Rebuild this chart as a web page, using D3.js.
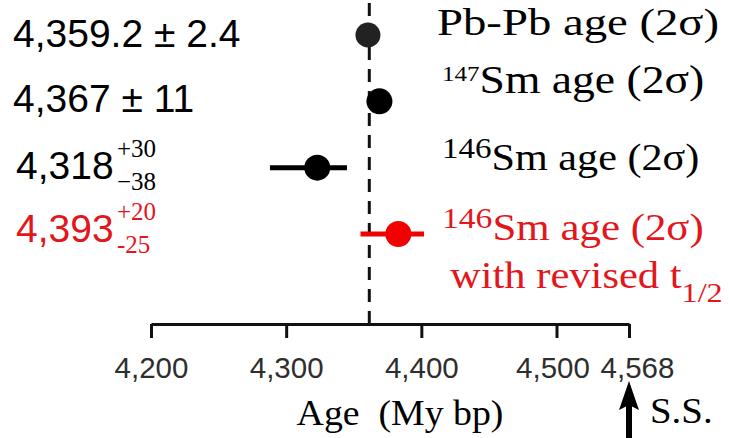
<!DOCTYPE html>
<html>
<head>
<meta charset="utf-8">
<script src="https://cdn.jsdelivr.net/npm/d3@7"></script>
<style>
  html, body { margin: 0; padding: 0; background: #fff; }
  svg { display: block; }
  .sans { font-family: "Liberation Sans", Arial, sans-serif; }
  .serif { font-family: "Liberation Serif", "Times New Roman", serif; }
</style>
</head>
<body>
<svg id="chart" width="729" height="438"></svg>
<script>
// ---------------- data ----------------
const categories = ["Pb-Pb", "147Sm", "146Sm", "146Sm revised"];
const ageCenters = [4360.5, 4369, 4323, 4383];
const barLow     = [4360.5, 4369, 4288, 4355];
const barHigh    = [4360.5, 4369, 4345, 4402];
const pbPbLine   = 4361.5;

const valueMain = ["4,359.2 \u00B1 2.4", "4,367 \u00B1 11", "4,318", "4,393"];
const valueSup  = ["", "", "+30", "+20"];
const valueSub  = ["", "", "\u221238", "-25"];

const labelSup  = ["", "147", "146", "146"];
const labelMain = ["Pb-Pb age (2\u03C3)", "Sm age (2\u03C3)", "Sm age (2\u03C3)", "Sm age (2\u03C3)"];
const extraLine = ["", "", "", "with revised t"];
const extraSub  = ["", "", "", "1/2"];
const highlight = [false, false, false, true];

const tickValues = [4200, 4300, 4400, 4500, 4568];
const tickLabels = ["4,200", "4,300", "4,400", "4,500", "4,568"];
const axisTitle = "Age  (My bp)";
const ssLabel = "S.S.";

// ---------------- layout ----------------
const RED_MARK = "#f00000";
const RED_TEXT = "#e3161c";
const svg = d3.select("#chart");

const x = d3.scaleLinear().domain([4200, 4500, 4568]).range([151, 556.5, 629]);
const y = d3.scalePoint().domain(categories).range([35, 234]);
const axisY = 324;

// dashed reference line (Pb-Pb age)
svg.append("line")
  .attr("x1", x(pbPbLine)).attr("x2", x(pbPbLine))
  .attr("y1", 3).attr("y2", axisY)
  .attr("stroke", "#111").attr("stroke-width", 3)
  .attr("stroke-dasharray", "13,9");

// axis
const axis = d3.axisBottom(x)
  .tickValues(tickValues)
  .tickFormat((d, i) => tickLabels[i])
  .tickSize(14).tickSizeOuter(0).tickPadding(19);
const gAxis = svg.append("g").attr("transform", `translate(0,${axisY})`).call(axis);
gAxis.select(".domain").attr("stroke", "#111").attr("stroke-width", 3);
gAxis.selectAll(".tick line").attr("stroke", "#111").attr("stroke-width", 3);
gAxis.selectAll(".tick text")
  .attr("class", "sans")
  .attr("font-size", 29.5)
  .attr("fill", "#2e2e2e")
  .attr("dx", (d, i) => i === tickLabels.length - 1 ? 8 : (i === 3 ? -4 : 0));

// error bars and points
const rows = categories.map((c, i) => ({c, i}));
svg.selectAll(".err").data(rows).join("line")
  .attr("class", "err")
  .attr("x1", d => x(barLow[d.i])).attr("x2", d => x(barHigh[d.i]))
  .attr("y1", d => y(d.c)).attr("y2", d => y(d.c))
  .attr("stroke", d => highlight[d.i] ? RED_MARK : "#000")
  .attr("stroke-width", 5);
svg.selectAll(".pt").data(rows).join("circle")
  .attr("class", "pt")
  .attr("cx", d => x(ageCenters[d.i])).attr("cy", d => y(d.c))
  .attr("r", d => d.i === 0 ? 12.5 : 13)
  .attr("fill", d => highlight[d.i] ? RED_MARK : (d.i === 0 ? "#222" : "#000"));

// left value labels
const valDy = [12, 11, 11, 8];
const valX  = [13, 13, 16, 16];
rows.forEach(d => {
  const col = highlight[d.i] ? RED_TEXT : "#000";
  const by = y(d.c) + valDy[d.i];
  svg.append("text").attr("class", "sans")
    .attr("x", valX[d.i]).attr("y", by)
    .attr("font-size", 39).attr("fill", col)
    .text(valueMain[d.i]);
  if (valueSup[d.i]) {
    svg.append("text").attr("class", "serif")
      .attr("x", 117).attr("y", by - 22)
      .attr("font-size", 25).attr("fill", col)
      .text(valueSup[d.i]);
    svg.append("text").attr("class", "serif")
      .attr("x", 117).attr("y", by + 11)
      .attr("font-size", 25).attr("fill", col)
      .text(valueSub[d.i]);
  }
});

// right labels
const labDy = [0, -8, 2, 6];
const labX  = [437, 442, 442, 442];
const labSize = [38, 40, 37, 37];
const supSize = [22, 22, 29, 29];
const labScale = [1.23, 1.14, 1.14, 1.16];
rows.forEach(d => {
  const col = highlight[d.i] ? RED_TEXT : "#000";
  const by = y(d.c) + labDy[d.i];
  const g = svg.append("g").attr("transform", `translate(${labX[d.i]},${by}) scale(${labScale[d.i]},1)`);
  const t = g.append("text").attr("class", "serif").attr("fill", col).attr("x", 0).attr("y", 0);
  if (labelSup[d.i]) {
    t.append("tspan").attr("font-size", supSize[d.i]).attr("dy", -12).text(labelSup[d.i]);
    t.append("tspan").attr("font-size", labSize[d.i]).attr("dy", 12).text(labelMain[d.i]);
  } else {
    t.append("tspan").attr("font-size", labSize[d.i]).text(labelMain[d.i]);
  }
  if (extraLine[d.i]) {
    const g2 = svg.append("g").attr("transform", `translate(450,${by + 48}) scale(1.15,1)`);
    const t2 = g2.append("text").attr("class", "serif").attr("fill", col);
    t2.append("tspan").attr("font-size", labSize[d.i]).text(extraLine[d.i]);
    t2.append("tspan").attr("font-size", 28).attr("dy", 14).text(extraSub[d.i]);
  }
});

// axis title
svg.append("g").attr("transform", `translate(400,425) scale(1.05,1)`)
  .append("text").attr("class", "serif")
  .attr("text-anchor", "middle").attr("font-size", 36)
  .style("white-space", "pre")
  .text(axisTitle);

// solar system arrow
const ax = x(4568);
svg.append("line")
  .attr("x1", ax).attr("x2", ax).attr("y1", 400).attr("y2", 438)
  .attr("stroke", "#000").attr("stroke-width", 6);
svg.append("path")
  .attr("d", d3.line()([[ax, 381], [ax - 10, 410], [ax, 405], [ax + 10, 410]]) + "Z")
  .attr("fill", "#000");
svg.append("g").attr("transform", `translate(650,423) scale(1.08,1)`)
  .append("text").attr("class", "serif").attr("font-size", 36)
  .text(ssLabel);
</script>
</body>
</html>
